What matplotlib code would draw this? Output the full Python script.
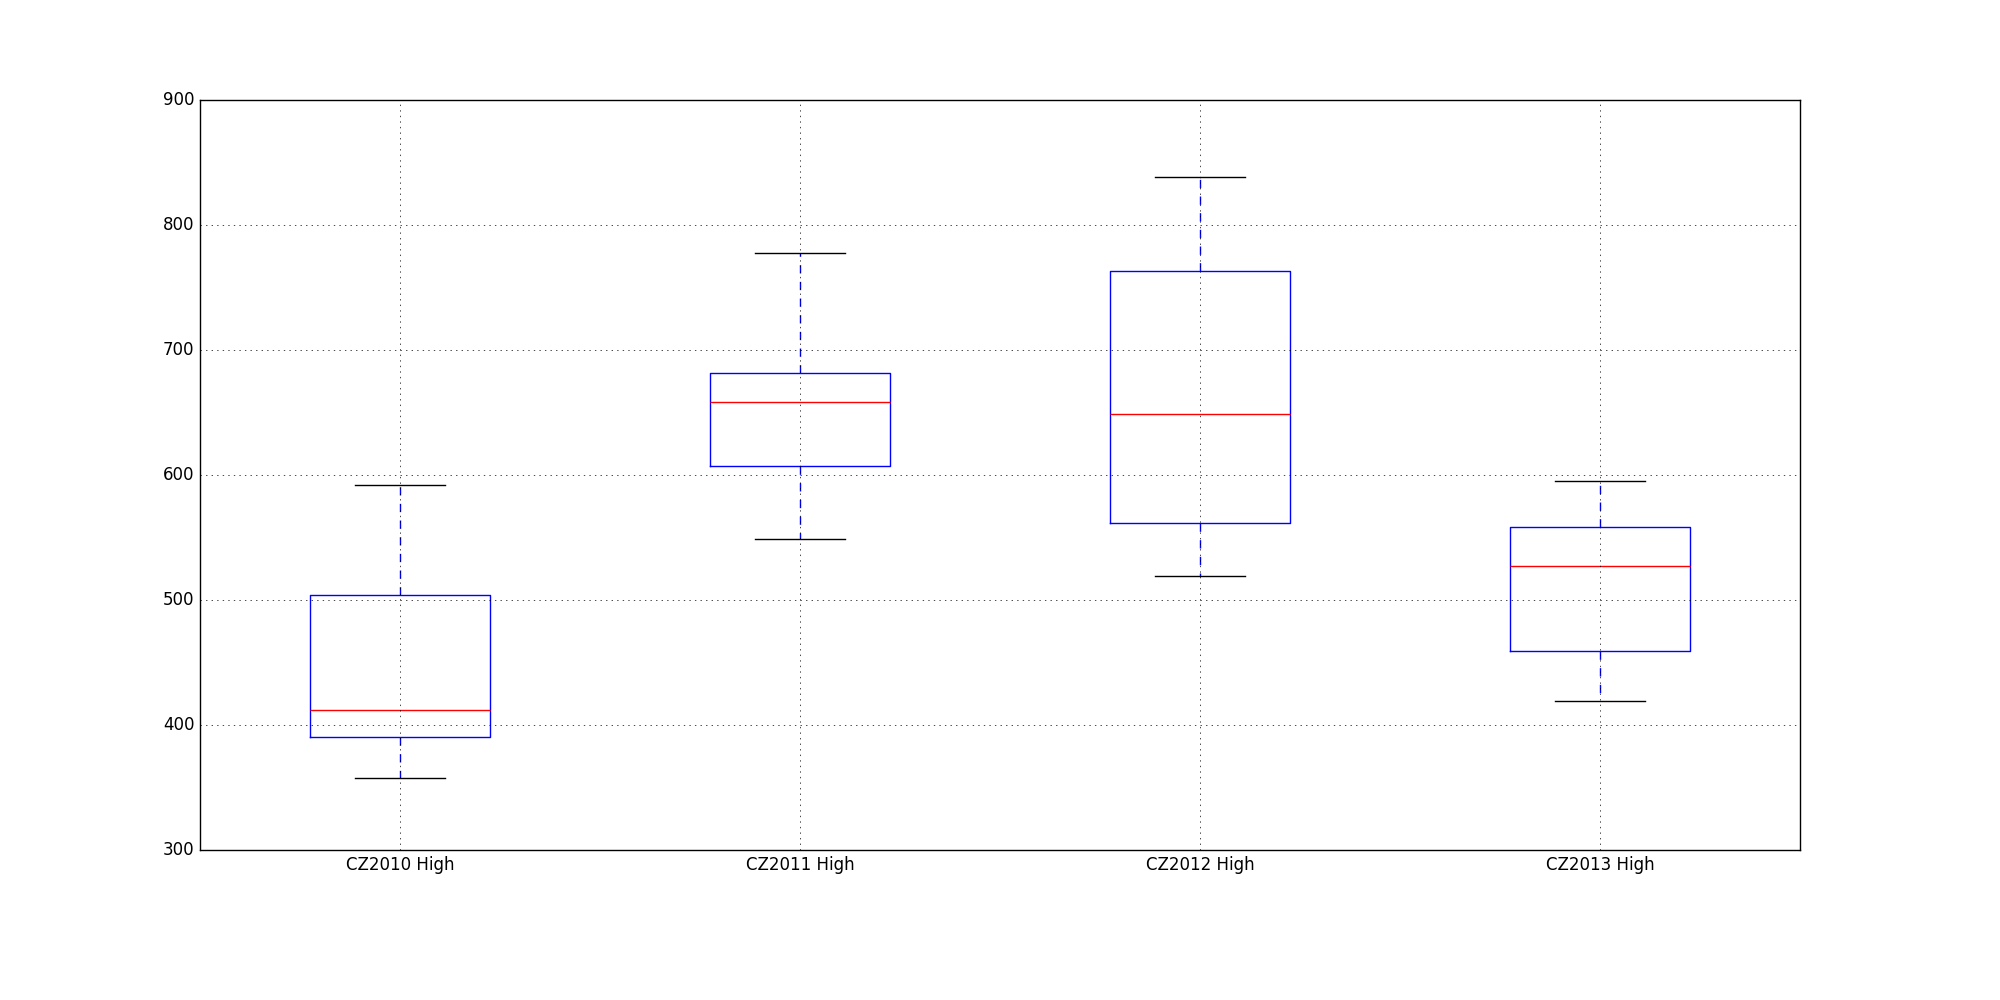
import matplotlib
matplotlib.use("Agg")
import matplotlib.pyplot as plt

plt.style.use("classic")

labels = ["CZ2010 High", "CZ2011 High", "CZ2012 High", "CZ2013 High"]
whislo = [357.3, 548.5, 519.2, 419.2]
q1 = [390.4, 606.9, 561.6, 459.2]
med = [412.0, 658.1, 648.5, 526.9]
q3 = [503.7, 681.3, 763.2, 558.1]
whishi = [592.0, 777.3, 838.4, 594.9]

stats = []
for i in range(len(labels)):
    stats.append(dict(label=labels[i], whislo=whislo[i], q1=q1[i], med=med[i],
                      q3=q3[i], whishi=whishi[i], fliers=[]))

fig = plt.figure(figsize=(20, 10), dpi=100, facecolor="white")
ax = fig.add_axes([0.1, 0.15, 0.8, 0.75])
ax.bxp(stats, showfliers=False,
       boxprops=dict(color="b"),
       whiskerprops=dict(color="b", linestyle="--"),
       capprops=dict(color="k"),
       medianprops=dict(color="r"))
ax.set_ylim(300, 900)
ax.set_xlim(0.5, 4.5)
ax.grid(True)
ax.tick_params(length=0)
fig.savefig("out.png", dpi=100, facecolor="white")
